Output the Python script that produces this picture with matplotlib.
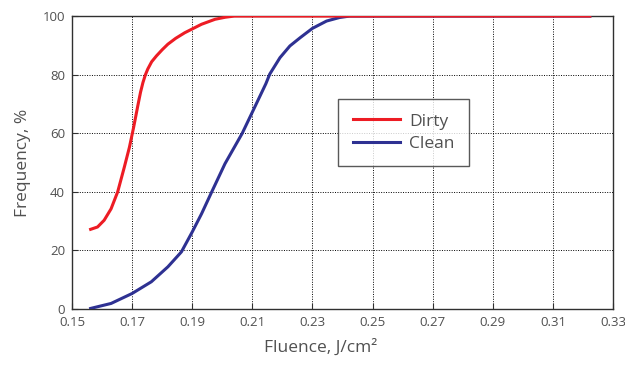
import matplotlib
matplotlib.use('Agg')
import matplotlib.pyplot as plt

# Dirty sample: fluence (J/cm2) vs frequency (%)
dirty_x = [0.1562, 0.1585, 0.1607, 0.1630, 0.1652, 0.1674, 0.1691, 0.1705,
           0.1719, 0.1728, 0.1736, 0.1744, 0.1752, 0.1765, 0.1781, 0.1800,
           0.1819, 0.1845, 0.1875, 0.1931, 0.1976, 0.2010, 0.2040, 0.2300,
           0.3223]
dirty_y = [27.2, 28.0, 30.3, 34.2, 40.0, 48.4, 55.2, 62.0,
           69.4, 74.0, 77.3, 79.9, 81.9, 84.4, 86.4, 88.5,
           90.4, 92.4, 94.3, 97.2, 98.9, 99.6, 100.0, 100.0,
           100.0]

# Clean sample
clean_x = [0.1562, 0.1630, 0.1700, 0.1764, 0.1819, 0.1864, 0.1900, 0.1931,
           0.1965, 0.2009, 0.2066, 0.2100, 0.2145, 0.2158, 0.2192, 0.2225,
           0.2259, 0.2300, 0.2347, 0.2390, 0.2424, 0.2600, 0.3223]
clean_y = [0.2, 1.9, 5.3, 9.3, 14.4, 19.5, 26.3, 32.5,
           40.0, 49.6, 59.9, 67.2, 76.9, 80.2, 85.8, 89.8,
           92.6, 95.8, 98.3, 99.5, 100.0, 100.0, 100.0]

x_ticks = [0.15, 0.17, 0.19, 0.21, 0.23, 0.25, 0.27, 0.29, 0.31, 0.33]
y_ticks = [0, 20, 40, 60, 80, 100]

plt.rcParams['font.family'] = ['Open Sans', 'DejaVu Sans']
text_col = '#505050'

fig = plt.figure(figsize=(6.25, 3.65), dpi=100)
ax = fig.add_axes([0.1152, 0.1534, 0.8656, 0.8026])

ax.plot(clean_x, clean_y, color='#2e3192', lw=2.2, label='Clean', zorder=3,
        solid_joinstyle='round')
ax.plot(dirty_x, dirty_y, color='#ed1c24', lw=2.2, label='Dirty', zorder=4,
        solid_joinstyle='round')

ax.set_xlim(0.15, 0.33)
ax.set_ylim(0, 100)
ax.set_xticks(x_ticks)
ax.set_xticklabels([f'{t:g}' for t in x_ticks])
ax.set_yticks(y_ticks)
ax.grid(True, color='black', linestyle=(0, (1, 1.5)), linewidth=0.7)
ax.tick_params(direction='in', length=4, colors='#303030', labelcolor=text_col,
               labelsize=9.5, pad=5)
for s in ax.spines.values():
    s.set_color('#303030')
    s.set_linewidth(1.0)

ax.set_xlabel('Fluence, J/cm²', fontsize=12.5, color=text_col)
ax.xaxis.set_label_coords(0.46, -0.10)
ax.set_ylabel('Frequency, %', fontsize=12.5, color=text_col, labelpad=8)

handles, labels = ax.get_legend_handles_labels()
leg = ax.legend(handles[::-1], labels[::-1], loc='upper left',
                bbox_to_anchor=(0.492, 0.717), borderaxespad=0,
                fontsize=12.5, handlelength=2.75,
                frameon=True, fancybox=False, borderpad=0.83, labelspacing=0.35,
                handletextpad=0.5)
leg.get_frame().set_edgecolor('#303030')
leg.get_frame().set_linewidth(1.0)
for t in leg.get_texts():
    t.set_color(text_col)

fig.savefig('out.png', dpi=100)
